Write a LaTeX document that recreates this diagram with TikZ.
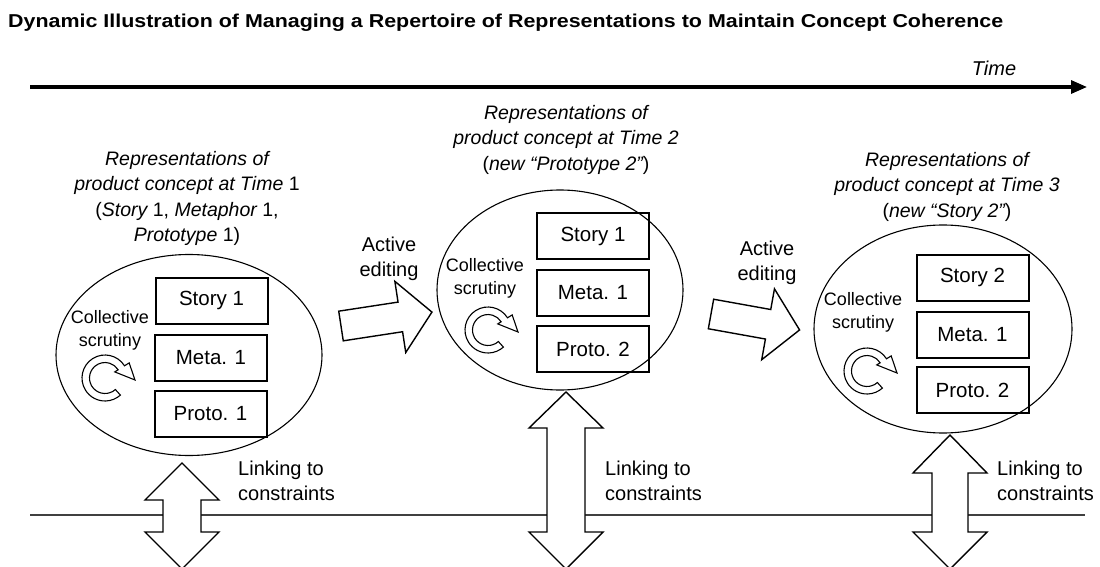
\documentclass[tikz,border=0pt]{standalone}
\usepackage{fontspec}
\setmainfont{Liberation Sans}
\usepackage{graphicx}
\usetikzlibrary{shapes.geometric,arrows.meta}
\begin{document}
\begin{tikzpicture}[x=1pt,y=-1pt,
  lbl/.style={inner sep=0pt, font=\fontsize{20}{25}\selectfont, align=left},
  hd/.style={inner sep=0pt, font=\fontsize{19.5}{25.5}\selectfont, align=center},
  scr/.style={inner sep=0pt, font=\fontsize{18}{22.5}\selectfont, align=center},
  ell/.style={draw, ellipse, line width=1.1pt, inner sep=0pt},
  repbox/.style={draw, line width=2pt, minimum width=112pt, minimum height=46pt, font=\fontsize{20.5}{24}\selectfont, inner sep=0pt},
  blk/.style={draw, fill=white, line width=1.4pt, line join=miter},
  cyc/.pic={
    \draw[blk, line width=1.1pt, yscale=-1] (32:23) arc[start angle=32, end angle=312, radius=23]
      -- (312:15.5) arc[start angle=312, end angle=32, radius=15.5]
      -- (32:11.5) -- (30,-2) -- (32:28.5) -- cycle;
  }
]
\path[use as bounding box] (0,0) rectangle (1100,567);

% title
\node[anchor=base west, inner sep=0pt] (title) at (8,28)
  {\resizebox{995pt}{13.5pt}{\bfseries Dynamic Illustration of Managing a Repertoire of Representations to Maintain Concept Coherence}};

% time axis
\coordinate (t0) at (30,87);
\coordinate (t1) at (1087,87);
\draw[line width=3.2pt, -{Triangle[length=16pt,width=13pt]}] (t0) -- (t1);
\node[inner sep=0pt, font=\fontsize{20}{24}\selectfont\itshape] (time) at (994,68) {Time};

% constraints line
\coordinate (c0) at (30,515);
\coordinate (c1) at (1085,515);
\draw[line width=1.2pt, black!75] (c0) -- (c1);

% ellipses
\node[ell, minimum width=266pt, minimum height=201pt] (e1) at (189,355) {};
\node[ell, minimum width=246pt, minimum height=200pt] (e2) at (560,290) {};
\node[ell, minimum width=258pt, minimum height=208pt] (e3) at (943,329) {};

% boxes
\node[repbox] (s1) at (211.5,300.5) {Story 1};
\node[repbox] (m1) at (211,357.5) {Meta. 1};
\node[repbox] (p1) at (210.5,414) {Proto. 1};
\node[repbox] (s2) at (593,236) {Story 1};
\node[repbox] (m2) at (593,293) {Meta. 1};
\node[repbox] (p2) at (593,349) {Proto. 2};
\node[repbox] (s3) at (972.5,277.5) {Story 2};
\node[repbox] (m3) at (972.5,335) {Meta. 1};
\node[repbox] (p3) at (972.5,390) {Proto. 2};

% headings
\node[hd, anchor=north] (h1) at (187,151)
  {\itshape Representations of\\ \itshape product concept at Time \upshape 1\\
   \upshape(\itshape Story \upshape 1, \itshape Metaphor \upshape 1,\\ \itshape Prototype \upshape 1)};
\node[hd, anchor=north] (h2) at (566,105)
  {\itshape Representations of\\ \itshape product concept at Time 2\\ \upshape(\itshape new \textquotedblleft Prototype 2\textquotedblright\upshape)};
\node[hd, anchor=north] (h3) at (947,152)
  {\itshape Representations of\\ \itshape product concept at Time 3\\ \upshape(\itshape new \textquotedblleft Story 2\textquotedblright\upshape)};

% collective scrutiny
\node[scr, anchor=north] (cs1) at (110,310.5) {Collective\\scrutiny};
\node[scr, anchor=north] (cs2) at (485,258.5) {Collective\\scrutiny};
\node[scr, anchor=north] (cs3) at (863,292.5) {Collective\\scrutiny};
\pic at (105,378) {cyc};
\pic at (488,330) {cyc};
\pic at (867,371) {cyc};

% active editing arrows
\draw[blk, shift={(341,326)}, rotate=8.7]
  (0,-15) -- (60,-15) -- (60,-36) -- (92,0) -- (60,36) -- (60,15) -- (0,15) -- cycle;
\draw[blk, shift={(711,314)}, rotate=-10.2]
  (0,-15) -- (58,-15) -- (58,-36) -- (90,0) -- (58,36) -- (58,15) -- (0,15) -- cycle;
\node[lbl, align=center, anchor=north] (ae1) at (389,237) {Active\\editing};
\node[lbl, align=center, anchor=north] (ae2) at (767,241) {Active\\editing};

% linking arrows
\draw[blk] (182,463) -- (219,500) -- (201,500) -- (201,532) -- (219,532) -- (182,569)
  -- (145,532) -- (163,532) -- (163,500) -- (145,500) -- cycle;
\draw[blk] (566,392) -- (603,428) -- (585,428) -- (585,532) -- (603,532) -- (566,569)
  -- (529,532) -- (547,532) -- (547,428) -- (529,428) -- cycle;
\draw[blk] (950,435) -- (987,473) -- (968,473) -- (968,532) -- (987,532) -- (950,569)
  -- (913,532) -- (932,532) -- (932,473) -- (913,473) -- cycle;
\node[lbl, anchor=north west] (lk1) at (238,461) {Linking to\\constraints};
\node[lbl, anchor=north west] (lk2) at (605,461) {Linking to\\constraints};
\node[lbl, anchor=north west] (lk3) at (997,461) {Linking to\\constraints};
\end{tikzpicture}
\end{document}
